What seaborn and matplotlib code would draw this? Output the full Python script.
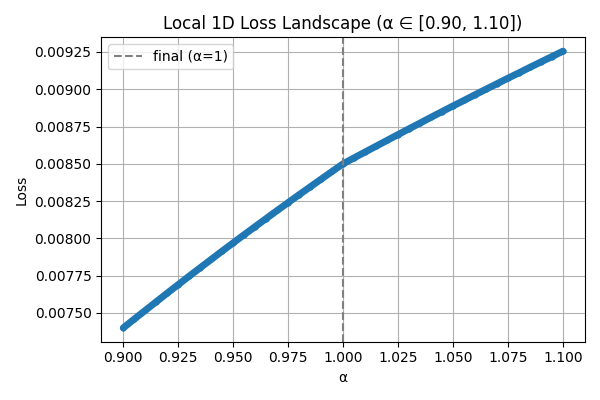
import seaborn as sns
import matplotlib.pyplot as plt

# alpha grid along the interpolation direction
alphas = [0.900, 0.905, 0.910, 0.915, 0.920, 0.925, 0.930, 0.935, 0.940, 0.945,
          0.950, 0.955, 0.960, 0.965, 0.970, 0.975, 0.980, 0.985, 0.990, 0.995,
          1.000, 1.005, 1.010, 1.015, 1.020, 1.025, 1.030, 1.035, 1.040, 1.045,
          1.050, 1.055, 1.060, 1.065, 1.070, 1.075, 1.080, 1.085, 1.090, 1.095,
          1.100]

# loss
losses = [0.007400, 0.007459, 0.007517, 0.007575, 0.007633, 0.007690, 0.007747,
          0.007803, 0.007859, 0.007915, 0.007970, 0.008025, 0.008079, 0.008133,
          0.008187, 0.008240, 0.008293, 0.008345, 0.008397, 0.008449, 0.008500,
          0.008540, 0.008579, 0.008618, 0.008657, 0.008696, 0.008735, 0.008773,
          0.008812, 0.008850, 0.008888, 0.008925, 0.008963, 0.009000, 0.009037,
          0.009074, 0.009110, 0.009147, 0.009183, 0.009219, 0.009255]

final_alpha = 1.0

plt.figure(figsize=(6, 4), dpi=100)
ax = sns.lineplot(x=alphas, y=losses, marker='o', markersize=4.5,
                  markeredgewidth=0, linewidth=5, color='#1f77b4',
                  solid_capstyle='round')
ax.axvline(final_alpha, color='gray', linestyle='--', label='final (α=1)')
ax.set_xlabel('α')
ax.set_ylabel('Loss')
ax.set_title('Local 1D Loss Landscape (α ∈ [0.90, 1.10])')
ax.grid(True)
ax.legend(loc='upper left')
plt.tight_layout()
plt.savefig('out.png')
